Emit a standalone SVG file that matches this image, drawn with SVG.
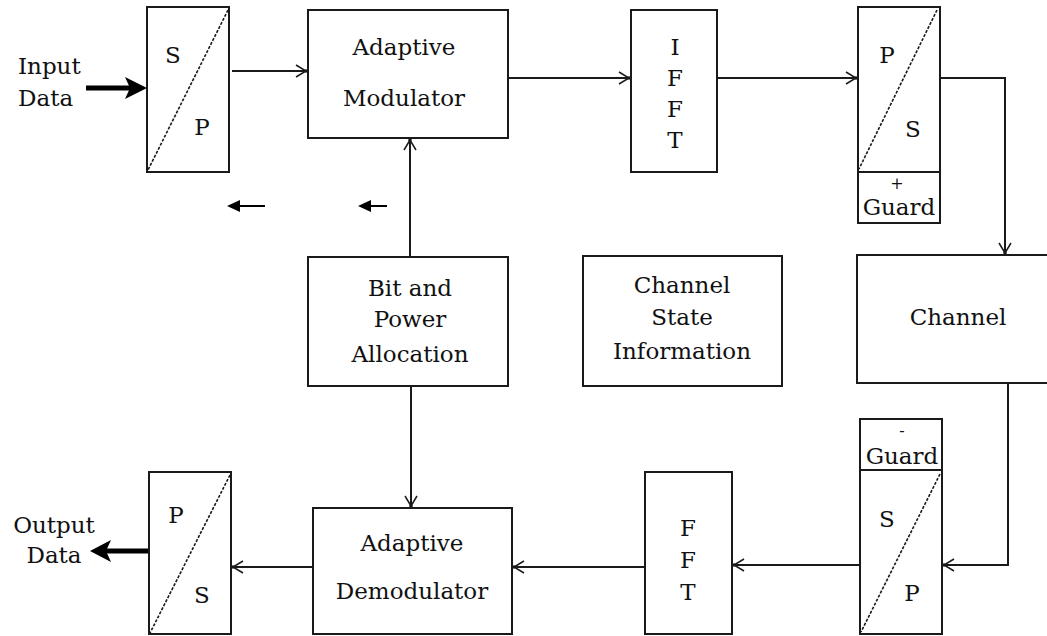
<svg xmlns="http://www.w3.org/2000/svg" width="1047" height="636" viewBox="0 0 1047 636">
<style>
.box{fill:#fff;stroke:#1a1a1a;stroke-width:2}
.diag{stroke:#1a1a1a;stroke-width:1.6;stroke-dasharray:3 1.5;fill:none}
.t{font-family:"DejaVu Serif","Liberation Serif",serif;font-size:23px;fill:#111;text-anchor:middle}
.ts{font-family:"DejaVu Serif","Liberation Serif",serif;font-size:23px;fill:#111}
.sm{font-family:"DejaVu Serif","Liberation Serif",serif;font-size:16px;fill:#111;text-anchor:middle}
.ln{stroke:#1a1a1a;stroke-width:2;fill:none}
</style>
<defs>
<marker id="open" markerUnits="userSpaceOnUse" viewBox="-12 -8 14 16" markerWidth="14" markerHeight="16" refX="0" refY="0" orient="auto">
<path d="M-10,-6 L0,0 L-10,6" fill="none" stroke="#1a1a1a" stroke-width="1.5"/>
<circle cx="0" cy="0" r="1.8" fill="#1a1a1a"/>
</marker>
</defs>
<rect width="1047" height="636" fill="#fff"/>

<g id="connectors">
<path class="ln" d="M232,71 H306" marker-end="url(#open)"/>
<path class="ln" d="M508,78 H629" marker-end="url(#open)"/>
<path class="ln" d="M717,78 H856" marker-end="url(#open)"/>
<path class="ln" d="M940,78 H1005 V253" marker-end="url(#open)"/>
<path class="ln" d="M1008,383 V565 H944" marker-end="url(#open)"/>
<path class="ln" d="M860,565 H734" marker-end="url(#open)"/>
<path class="ln" d="M645,567 H514" marker-end="url(#open)"/>
<path class="ln" d="M313,567 H233" marker-end="url(#open)"/>
<path class="ln" d="M410,257 V140" marker-end="url(#open)"/>
<path class="ln" d="M411,386 V506" marker-end="url(#open)"/>
<path d="M86,88 H130" stroke="#000" stroke-width="5" fill="none"/>
<polygon points="147,88 125,77 130,88 125,99" fill="#000"/>
<path d="M149,551 H105" stroke="#000" stroke-width="5" fill="none"/>
<polygon points="90,551 111,540 106,551 111,562" fill="#000"/>
<path d="M238,206 H265" stroke="#000" stroke-width="2" fill="none"/>
<polygon points="227,206 240,200 240,212" fill="#000"/>
<path d="M369,206 H387" stroke="#000" stroke-width="2" fill="none"/>
<polygon points="358,206 371,200 371,212" fill="#000"/>
</g>

<g id="input-label">
<text class="ts" x="18" y="74">Input</text>
<text class="ts" x="18" y="106">Data</text>
</g>

<g id="sp-top">
<rect class="box" x="147" y="7" width="82" height="165"/>
<line class="diag" x1="228" y1="10" x2="148" y2="170"/>
<text class="t" x="173" y="63">S</text>
<text class="t" x="202" y="135">P</text>
</g>

<g id="adaptive-modulator">
<rect class="box" x="308" y="10" width="200" height="128"/>
<text class="t" x="404" y="55">Adaptive</text>
<text class="t" x="404" y="106">Modulator</text>
</g>

<g id="ifft">
<rect class="box" x="631" y="10" width="86" height="162"/>
<text class="t" x="675" y="55">I</text>
<text class="t" x="675" y="86">F</text>
<text class="t" x="675" y="117">F</text>
<text class="t" x="675" y="148">T</text>
</g>

<g id="ps-top">
<rect class="box" x="858" y="7" width="82" height="165"/>
<rect class="box" x="858" y="172" width="82" height="51"/>
<line class="diag" x1="937" y1="10" x2="859" y2="169"/>
<text class="t" x="887" y="63">P</text>
<text class="t" x="913" y="137">S</text>
<text class="sm" x="897" y="189">+</text>
<text class="t" x="899" y="215">Guard</text>
</g>

<g id="bit-power">
<rect class="box" x="308" y="257" width="200" height="129"/>
<text class="t" x="410" y="296">Bit and</text>
<text class="t" x="410" y="327">Power</text>
<text class="t" x="410" y="362">Allocation</text>
</g>

<g id="csi">
<rect class="box" x="583" y="256" width="199" height="130"/>
<text class="t" x="682" y="293">Channel</text>
<text class="t" x="682" y="325">State</text>
<text class="t" x="682" y="359">Information</text>
</g>

<g id="channel">
<rect class="box" x="857" y="255" width="210" height="128"/>
<text class="t" x="958" y="325">Channel</text>
</g>

<g id="sp-bottom">
<rect class="box" x="860" y="419" width="82" height="51"/>
<rect class="box" x="860" y="470" width="82" height="164"/>
<line class="diag" x1="940" y1="474" x2="861" y2="632"/>
<text class="sm" x="902" y="436">-</text>
<text class="t" x="902" y="464">Guard</text>
<text class="t" x="887" y="527">S</text>
<text class="t" x="912" y="601">P</text>
</g>

<g id="fft">
<rect class="box" x="645" y="472" width="87" height="162"/>
<text class="t" x="688" y="536">F</text>
<text class="t" x="688" y="568">F</text>
<text class="t" x="688" y="600">T</text>
</g>

<g id="adaptive-demodulator">
<rect class="box" x="313" y="508" width="199" height="126"/>
<text class="t" x="412" y="551">Adaptive</text>
<text class="t" x="412" y="599">Demodulator</text>
</g>

<g id="ps-bottom">
<rect class="box" x="149" y="472" width="82" height="162"/>
<line class="diag" x1="230" y1="475" x2="150" y2="633"/>
<text class="t" x="176" y="523">P</text>
<text class="t" x="202" y="603">S</text>
</g>

<g id="output-label">
<text class="t" x="54" y="533">Output</text>
<text class="t" x="54" y="563">Data</text>
</g>
</svg>
